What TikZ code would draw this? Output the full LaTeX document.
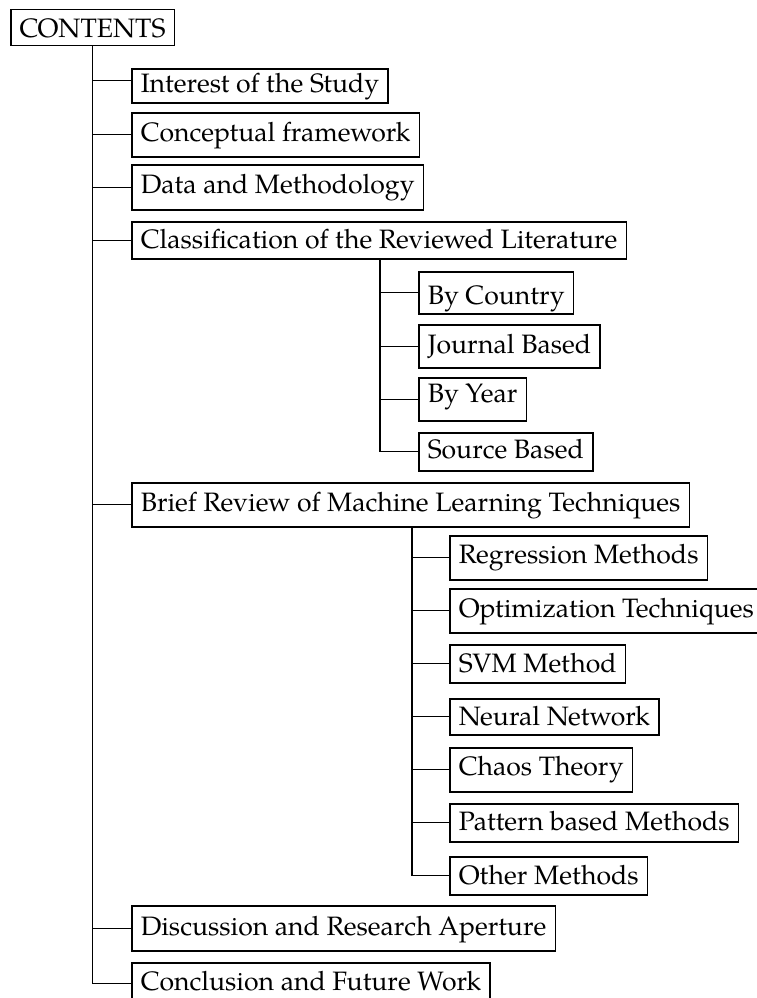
\documentclass[tikz,border=0pt]{standalone}
\usepackage{fontspec}
\setmainfont{TeX Gyre Pagella}
\begin{document}
\begin{tikzpicture}[x=1pt,y=-1pt,
  bx/.style 2 args={draw, line width=1.5pt, inner xsep=9pt, inner ysep=0pt,
    anchor=north west, text height=#1pt, text depth=#2pt,
    font=\fontsize{26.6}{32}\selectfont},
  ln/.style={line width=1.4pt},
  br/.style={line width=0.9pt}]
\useasboundingbox (0,0) rectangle (757,998);

\node[bx={28}{8}] (c) at (10,9) {CONTENTS};
\node[bx={24}{10}] (int) at (131,68) {Interest of the Study};
\node[bx={29}{15}] (con) at (131,112) {Conceptual framework};
\node[bx={29}{16}] (dat) at (131,164) {Data and Methodology};
\node[bx={27}{10}] (cla) at (131,221) {Classification of the Reviewed Literature};
\node[bx={33}{9}] (cty) at (418,271) {By Country};
\node[bx={29}{14}] (jou) at (418,324) {Journal Based};
\node[bx={25}{18}] (yea) at (418,377) {By Year};
\node[bx={26}{12}] (src) at (418,432) {Source Based};
\node[bx={29}{15}] (bri) at (131,482) {Brief Review of Machine Learning Techniques};
\node[bx={28}{16}] (reg) at (449,535) {Regression Methods};
\node[bx={29}{15}] (opt) at (449,588) {Optimization Techniques};
\node[bx={28}{10}] (svm) at (449,644) {SVM Method};
\node[bx={27}{9}] (neu) at (449,698) {Neural Network};
\node[bx={28}{16}] (cha) at (449,747) {Chaos Theory};
\node[bx={27}{11}] (pat) at (449,803) {Pattern based Methods};
\node[bx={28}{10}] (oth) at (449,856) {Other Methods};
\node[bx={30}{15}] (dis) at (131,905) {Discussion and Research Aperture};
\node[bx={28}{14}] (clu) at (131,962) {Conclusion and Future Work};

\coordinate (v1) at (380,0);
\coordinate (v2) at (412,0);

\draw[ln] (c.south) -- (c.south |- clu.west);
\draw[br] ([yshift=5pt]int.west) -- ([yshift=5pt]int.west -| c.south);
\foreach \n in {con,dat,cla,bri,dis,clu}
  \draw[br] (\n.west) -- (\n.west -| c.south);

\draw[ln] (cla.south -| v1) -- (src.west -| v1);
\foreach \n in {cty,jou,yea,src}
  \draw[br] (\n.west) -- (\n.west -| v1);

\draw[ln] (bri.south -| v2) -- (oth.west -| v2);
\foreach \n in {reg,opt,svm,neu,cha,pat,oth}
  \draw[br] (\n.west) -- (\n.west -| v2);
\end{tikzpicture}
\end{document}
